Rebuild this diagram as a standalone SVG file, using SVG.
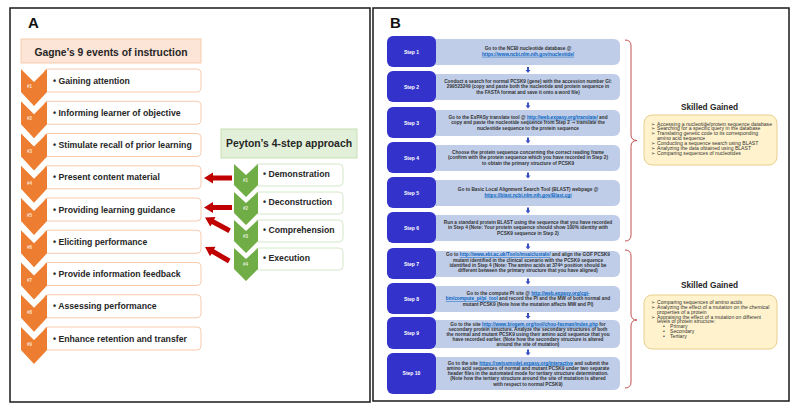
<svg xmlns="http://www.w3.org/2000/svg" xmlns:xlink="http://www.w3.org/1999/xlink" width="800" height="411" viewBox="0 0 800 411">
<style>
text{font-family:"Liberation Sans",Arial,sans-serif;}
.panel{fill:#fff;stroke:#1a1a1a;stroke-width:1.5;}
.plabel{font-size:15px;font-weight:bold;fill:#111;}
.ghead{fill:#fce4d6;stroke:#f8cbad;stroke-width:1;}
.phead{fill:#e2f0d9;stroke:#c5e0b4;stroke-width:1;}
.htext{font-size:10.3px;font-weight:bold;fill:#262626;text-anchor:middle;}
.obox{fill:#fff;stroke:#f8cbad;stroke-width:1;}
.gbox{fill:#fff;stroke:#d5e8c8;stroke-width:1;}
.item{font-size:8.7px;font-weight:bold;fill:#262626;}
.ochev{fill:#ed7d31;}
.gchev{fill:#70ad47;}
.num{font-size:4.5px;fill:#fbe5d6;font-weight:bold;}
.gnum{font-size:4.5px;fill:#e2f0d9;font-weight:bold;}
.redarrow{fill:#c00000;}
.stepd{fill:#3333cc;}
.stepl{fill:#bfcde8;}
.steplabel{font-size:5px;font-weight:bold;fill:#fff;text-anchor:middle;}
.stext{font-size:4.75px;font-weight:bold;fill:#333;text-anchor:middle;}
.link{fill:#0563c1;text-decoration:underline;}
.sym{font-family:"DejaVu Sans",sans-serif;}
.darrow{fill:#3a4fc4;}
.brace{fill:none;stroke:#c0504d;stroke-width:1;}
.skbox{fill:#fff2cc;stroke:#e8cf8e;stroke-width:1;}
.sktitle{font-size:8.3px;font-weight:bold;fill:#262626;text-anchor:middle;}
.sk{font-size:5.1px;fill:#333;}
.skb{font-size:5px;fill:#333;font-family:"DejaVu Sans",sans-serif;}
</style>
<defs>
<polygon id="rarr" points="0,0 9,-5.5 9,-2.5 28,-2.5 28,2.5 9,2.5 9,5.5"/>
<polygon id="ochev" points="0,0 13,13 26,0 26,23 13,37 0,23"/>
<polygon id="gchev" points="0,0 12,11 24,0 24,21 12,33 0,21"/>
<polygon id="darr" points="-1,0 1,0 1,3 2.5,3 0,6 -2.5,3 -1,3"/>
</defs>
<rect width="800" height="411" fill="#fff"/>

<!-- Panel A -->
<g id="panelA">
<rect class="panel" x="10" y="8" width="360" height="394"/>
<text class="plabel" x="28" y="28">A</text>
</g>

<g id="gagne-header">
<rect class="ghead" x="21" y="39" width="180" height="24"/>
<text class="htext" x="111" y="55.5">Gagne’s 9 events of instruction</text>
</g>

<g id="gagne1"><rect class="obox" x="44" y="69" width="157" height="23" rx="4"/><use href="#ochev" class="ochev" x="21" y="69"/><text class="num" x="27" y="88">#1</text><text class="item" x="53" y="83.5">•  Gaining attention</text></g>
<g id="gagne2"><rect class="obox" x="44" y="101.25" width="157" height="23" rx="4"/><use href="#ochev" class="ochev" x="21" y="101.25"/><text class="num" x="27" y="120.25">#2</text><text class="item" x="53" y="115.75">•  Informing learner of objective</text></g>
<g id="gagne3"><rect class="obox" x="44" y="133.5" width="157" height="23" rx="4"/><use href="#ochev" class="ochev" x="21" y="133.5"/><text class="num" x="27" y="152.5">#3</text><text class="item" x="53" y="148">•  Stimulate recall of prior learning</text></g>
<g id="gagne4"><rect class="obox" x="44" y="165.75" width="157" height="23" rx="4"/><use href="#ochev" class="ochev" x="21" y="165.75"/><text class="num" x="27" y="184.75">#4</text><text class="item" x="53" y="180.25">•  Present content material</text></g>
<g id="gagne5"><rect class="obox" x="44" y="198" width="157" height="23" rx="4"/><use href="#ochev" class="ochev" x="21" y="198"/><text class="num" x="27" y="217">#5</text><text class="item" x="53" y="212.5">•  Providing learning guidance</text></g>
<g id="gagne6"><rect class="obox" x="44" y="230.25" width="157" height="23" rx="4"/><use href="#ochev" class="ochev" x="21" y="230.25"/><text class="num" x="27" y="249.25">#6</text><text class="item" x="53" y="244.75">•  Eliciting performance</text></g>
<g id="gagne7"><rect class="obox" x="44" y="262.5" width="157" height="23" rx="4"/><use href="#ochev" class="ochev" x="21" y="262.5"/><text class="num" x="27" y="281.5">#7</text><text class="item" x="53" y="277">•  Provide information feedback</text></g>
<g id="gagne8"><rect class="obox" x="44" y="294.75" width="157" height="23" rx="4"/><use href="#ochev" class="ochev" x="21" y="294.75"/><text class="num" x="27" y="313.75">#8</text><text class="item" x="53" y="309.25">•  Assessing performance</text></g>
<g id="gagne9"><rect class="obox" x="44" y="327" width="157" height="23" rx="4"/><use href="#ochev" class="ochev" x="21" y="327"/><text class="num" x="27" y="346">#9</text><text class="item" x="53" y="341.5">•  Enhance retention and transfer</text></g>

<g id="peyton-header">
<rect class="phead" x="221" y="129" width="136" height="29"/>
<text class="htext" x="289" y="147" style="font-size:10.4px">Peyton’s 4-step approach</text>
</g>

<g id="peyton1"><rect class="gbox" x="255" y="164" width="88" height="22" rx="4"/><use href="#gchev" class="gchev" x="234" y="164"/><text class="gnum" x="243" y="182">#1</text><text class="item" x="263" y="177.3">•  Demonstration</text></g>
<g id="peyton2"><rect class="gbox" x="255" y="192" width="88" height="22" rx="4"/><use href="#gchev" class="gchev" x="234" y="192"/><text class="gnum" x="243" y="210">#2</text><text class="item" x="263" y="205.3">•  Deconstruction</text></g>
<g id="peyton3"><rect class="gbox" x="255" y="220" width="88" height="22" rx="4"/><use href="#gchev" class="gchev" x="234" y="220"/><text class="gnum" x="243" y="238">#3</text><text class="item" x="263" y="233.3">•  Comprehension</text></g>
<g id="peyton4"><rect class="gbox" x="255" y="248" width="88" height="22" rx="4"/><use href="#gchev" class="gchev" x="234" y="248"/><text class="gnum" x="243" y="266">#4</text><text class="item" x="263" y="261.3">•  Execution</text></g>

<g id="connectors-A">
<use href="#rarr" class="redarrow" transform="translate(204,178)"/>
<use href="#rarr" class="redarrow" transform="translate(204,207.5)"/>
<use href="#rarr" class="redarrow" transform="translate(205,217.5) rotate(28.3)"/>
<use href="#rarr" class="redarrow" transform="translate(205,247) rotate(30)"/>
</g>

<!-- Panel B -->
<g id="panelB">
<rect class="panel" x="373" y="8" width="416" height="393"/>
<text class="plabel" x="390" y="28">B</text>
</g>

<g id="step1"><rect class="stepl" x="430" y="39" width="190" height="26" rx="6"/><rect class="stepd" x="387" y="36" width="49" height="31" rx="6"/><text class="steplabel" x="411.5" y="53.5">Step 1</text>
<text class="stext" x="528" y="50.3">Go to the NCBI nucleotide database @</text>
<text class="stext" x="528" y="55.8"><tspan class="link">https://www.ncbi.nlm.nih.gov/nucleotide/</tspan></text></g>

<g id="step2"><rect class="stepl" x="430" y="74" width="190" height="26" rx="6"/><rect class="stepd" x="387" y="71" width="49" height="31" rx="6"/><text class="steplabel" x="411.5" y="88.5">Step 2</text>
<text class="stext" x="528" y="82.6">Conduct a search for normal PCSK9 (gene) with the accession number GI:</text>
<text class="stext" x="528" y="88.2">299523249 (copy and paste both the nucleotide and protein sequence in</text>
<text class="stext" x="528" y="93.8">the FASTA format and save it onto a word file)</text></g>

<g id="step3"><rect class="stepl" x="430" y="110" width="190" height="26" rx="6"/><rect class="stepd" x="387" y="107" width="49" height="31" rx="6"/><text class="steplabel" x="411.5" y="124.5">Step 3</text>
<text class="stext" x="528" y="118.8">Go to the ExPASy translate tool @ <tspan class="link">http://web.expasy.org/translate/</tspan> and</text>
<text class="stext" x="528" y="124.4">copy and paste the nucleotide sequence from Step 2 <tspan class="sym">→</tspan> translate the</text>
<text class="stext" x="528" y="130">nucleotide sequence to the protein sequence</text></g>

<g id="step4"><rect class="stepl" x="430" y="145" width="190" height="26" rx="6"/><rect class="stepd" x="387" y="142" width="49" height="31" rx="6"/><text class="steplabel" x="411.5" y="159.5">Step 4</text>
<text class="stext" x="528" y="153.8">Choose the protein sequence concerning the correct reading frame</text>
<text class="stext" x="528" y="159.4">(confirm with the protein sequence which you have recorded in Step 2)</text>
<text class="stext" x="528" y="165">to obtain the primary structure of PCSK9</text></g>

<g id="step5"><rect class="stepl" x="430" y="180" width="190" height="26" rx="6"/><rect class="stepd" x="387" y="177" width="49" height="31" rx="6"/><text class="steplabel" x="411.5" y="194.5">Step 5</text>
<text class="stext" x="528" y="190.8">Go to Basic Local Alignment Search Tool (BLAST) webpage @</text>
<text class="stext" x="528" y="196.6"><tspan class="link">https://blast.ncbi.nlm.nih.gov/Blast.cgi</tspan></text></g>

<g id="step6"><rect class="stepl" x="430" y="215" width="190" height="26" rx="6"/><rect class="stepd" x="387" y="212" width="49" height="31" rx="6"/><text class="steplabel" x="411.5" y="229.5">Step 6</text>
<text class="stext" x="528" y="223.8">Run a standard protein BLAST  using the sequence that you have recorded</text>
<text class="stext" x="528" y="229.4">in Step 4 (Note: Your protein sequence should show  100% identity with</text>
<text class="stext" x="528" y="235">PCSK9 sequence in Step 2)</text></g>

<g id="step7"><rect class="stepl" x="430" y="251" width="190" height="26" rx="6"/><rect class="stepd" x="387" y="248" width="49" height="31" rx="6"/><text class="steplabel" x="411.5" y="265.5">Step 7</text>
<text class="stext" x="528" y="256.3">Go to <tspan class="link">http://www.ebi.ac.uk/Tools/msa/clustalo/</tspan> and align the GOF  PCSK9</text>
<text class="stext" x="528" y="261.6">mutant identified in the clinical scenario with the PCSK9 sequence</text>
<text class="stext" x="528" y="266.9">identified in Step 4 (Note:  The amino acids at 374<tspan dy="-1.2" font-size="3px">th</tspan><tspan dy="1.2"> position should be</tspan></text>
<text class="stext" x="528" y="272.2">different between the primary structure that you have aligned)</text></g>

<g id="step8"><rect class="stepl" x="430" y="286" width="190" height="26" rx="6"/><rect class="stepd" x="387" y="283" width="49" height="31" rx="6"/><text class="steplabel" x="411.5" y="300.5">Step 8</text>
<text class="stext" x="528" y="294.6">Go to the compute PI site @ <tspan class="link">http://web.expasy.org/cgi-</tspan></text>
<text class="stext" x="528" y="300.2"><tspan class="link">bin/compute_pi/pi_tool</tspan> and record the PI and the MW of both normal and</text>
<text class="stext" x="528" y="305.8">mutant PCSK9 (Note how the mutation affects MW and PI)</text></g>

<g id="step9"><rect class="stepl" x="430" y="320" width="190" height="28" rx="6"/><rect class="stepd" x="387" y="317" width="49" height="32" rx="6"/><text class="steplabel" x="411.5" y="334.8">Step 9</text>
<text class="stext" x="528" y="325.8">Go to the site <tspan class="link">http://www.biogem.org/tool/chou-fasman/index.php</tspan> for</text>
<text class="stext" x="528" y="330.8">secondary protein structure. Analyze the secondary structures of both</text>
<text class="stext" x="528" y="335.8">the normal and mutant PCSK9 using their amino acid sequence that you</text>
<text class="stext" x="528" y="340.8">have recorded earlier. (Note how the secondary structure is altered</text>
<text class="stext" x="528" y="345.8">around the site of mutation)</text></g>

<g id="step10"><rect class="stepl" x="430" y="357" width="190" height="33" rx="6"/><rect class="stepd" x="387" y="353" width="49" height="41" rx="6"/><text class="steplabel" x="411.5" y="375.3">Step 10</text>
<text class="stext" x="528" y="364.5">Go to the site <tspan class="link">https://swissmodel.expasy.org/interactive</tspan> and submit the</text>
<text class="stext" x="528" y="369.8">amino acid sequences of normal and mutant PCSK9 under two separate</text>
<text class="stext" x="528" y="375.1">header files in the automated mode for tertiary structure determination.</text>
<text class="stext" x="528" y="380.4">(Note how the tertiary structure around the site of mutation is altered</text>
<text class="stext" x="528" y="385.7">with respect to normal PCSK9)</text></g>

<g id="connectors-B">
<use href="#darr" class="darrow" x="528" y="67"/>
<use href="#darr" class="darrow" x="528" y="102.5"/>
<use href="#darr" class="darrow" x="528" y="137.5"/>
<use href="#darr" class="darrow" x="528" y="172.5"/>
<use href="#darr" class="darrow" x="528" y="207.5"/>
<use href="#darr" class="darrow" x="528" y="243.5"/>
<use href="#darr" class="darrow" x="528" y="278.5"/>
<use href="#darr" class="darrow" x="528" y="313"/>
<use href="#darr" class="darrow" x="528" y="349.5"/>
<path class="brace" d="M625,40 Q631,40 631,46 L631,134.5 Q631,140.5 637,140.5 Q631,140.5 631,146.5 L631,235 Q631,241 625,241"/>
<path class="brace" d="M625,250 Q631,250 631,256 L631,314 Q631,320 637,320 Q631,320 631,326 L631,382 Q631,388 625,388"/>
</g>

<g id="skills1">
<text class="sktitle" x="709.5" y="110">Skilled Gained</text>
<rect class="skbox" x="644" y="115" width="133" height="50" rx="8"/>
<text class="skb" x="651" y="125.5">➢</text><text class="sk" x="657" y="125.5">Accessing a nucleotide/protein sequence database</text>
<text class="skb" x="651" y="130.4">➢</text><text class="sk" x="657" y="130.4">Searching for a specific query in the database</text>
<text class="skb" x="651" y="135.3">➢</text><text class="sk" x="657" y="135.3">Translating genetic code to its corresponding</text>
<text class="sk" x="657" y="140.2">amino acid sequence</text>
<text class="skb" x="651" y="145.1">➢</text><text class="sk" x="657" y="145.1">Conducting a sequence search using BLAST</text>
<text class="skb" x="651" y="150">➢</text><text class="sk" x="657" y="150">Analyzing the data obtained using BLAST</text>
<text class="skb" x="651" y="154.9">➢</text><text class="sk" x="657" y="154.9">Comparing sequences of nucleotides</text>
</g>

<g id="skills2">
<text class="sktitle" x="709.5" y="288">Skilled Gained</text>
<rect class="skbox" x="644" y="295" width="133" height="54" rx="8"/>
<text class="skb" x="651" y="303.8">➢</text><text class="sk" x="657" y="303.8">Comparing sequences of amino acids</text>
<text class="skb" x="651" y="308.7">➢</text><text class="sk" x="657" y="308.7">Analyzing the effect of a mutation on the chemical</text>
<text class="sk" x="657" y="313.6">properties of a protein</text>
<text class="skb" x="651" y="318.5">➢</text><text class="sk" x="657" y="318.5">Appraising the effect of a mutation on different</text>
<text class="sk" x="657" y="323.4">levels of protein structure:</text>
<text class="sk" x="663" y="328.3">•</text><text class="sk" x="670" y="328.3">Primary</text>
<text class="sk" x="663" y="333.1">•</text><text class="sk" x="670" y="333.1">Secondary</text>
<text class="sk" x="663" y="337.9">•</text><text class="sk" x="670" y="337.9">Tertiary</text>
</g>
</svg>
